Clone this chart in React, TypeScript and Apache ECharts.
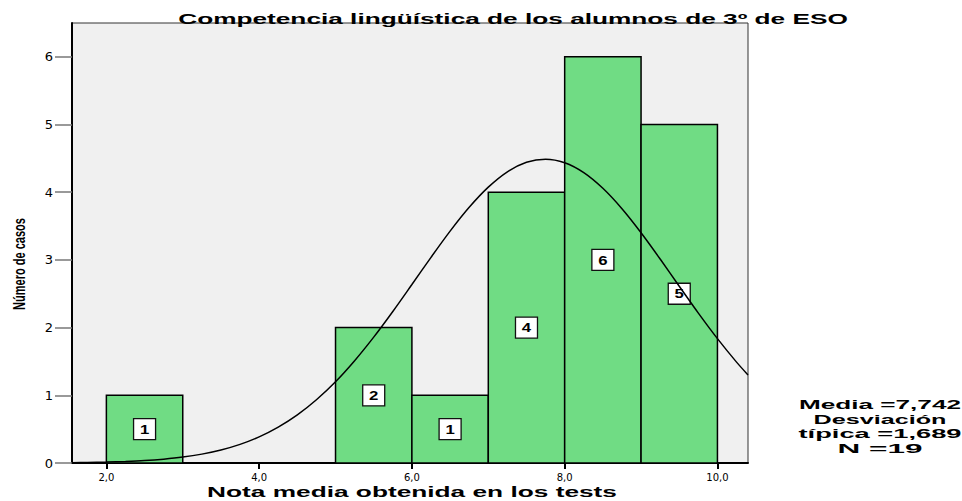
import React, { useEffect, useRef } from "react";
import * as echarts from "echarts";

const titleText = "Competencia lingüística de los alumnos de 3º de ESO";
const xAxisName = "Nota media obtenida en los tests";
const yAxisName = "Número de casos";
const statLines = ["Media =7,742", "Desviación", "típica =1,689", "N =19"];

const binStart = [2, 5, 6, 7, 8, 9];
const binEnd = [3, 6, 7, 8, 9, 10];
const binCount = [1, 2, 1, 4, 6, 5];

const curveX = [1.55, 1.75, 2, 2.25, 2.5, 2.75, 3, 3.25, 3.5, 3.75, 4, 4.25, 4.5, 4.75, 5, 5.25, 5.5, 5.75, 6, 6.25, 6.5, 6.75, 7, 7.25, 7.5, 7.75, 8, 8.25, 8.5, 8.75, 9, 9.25, 9.5, 9.75, 10, 10.25, 10.4];
const curveY = [0.005, 0.008, 0.014, 0.023, 0.036, 0.057, 0.087, 0.131, 0.192, 0.275, 0.386, 0.53, 0.711, 0.935, 1.201, 1.512, 1.86, 2.239, 2.637, 3.038, 3.425, 3.777, 4.075, 4.302, 4.442, 4.488, 4.436, 4.29, 4.058, 3.756, 3.401, 3.013, 2.611, 2.214, 1.837, 1.49, 1.301];

const xTicks = [2, 4, 6, 8, 10];
const yTicks = [0, 1, 2, 3, 4, 5, 6];

const FONT = "'Liberation Sans', Arial, sans-serif";

function fitScale(text: string, font: string, target: number): number {
  const c = document.createElement("canvas").getContext("2d");
  if (!c) return 1;
  c.font = font;
  const w = c.measureText(text).width;
  return w > 0 ? target / w : 1;
}

export default function App() {
  const ref = useRef<HTMLDivElement>(null);
  useEffect(() => {
    if (!ref.current) return;
    const chart = echarts.init(ref.current, undefined, { renderer: "svg" });

    const bins = binStart.map((s, i) => [s, binEnd[i], binCount[i]]);
    const curve = curveX.map((x, i) => [x, curveY[i]]);

    const tf = (size: number) => `bold ${size}px ${FONT}`;
    const statY = [404, 419, 434, 448];
    const statW = [162, 133, 163, 85];

    const graphics: any[] = [
      {
        type: "text",
        x: 513,
        y: 19,
        scaleX: fitScale(titleText, tf(14), 670),
        style: { text: titleText, font: tf(14), fill: "#000", align: "center", verticalAlign: "middle" },
      },
      {
        type: "text",
        x: 412,
        y: 492,
        scaleX: fitScale(xAxisName, tf(14), 410),
        style: { text: xAxisName, font: tf(14), fill: "#000", align: "center", verticalAlign: "middle" },
      },
      {
        type: "text",
        x: 19,
        y: 264,
        rotation: Math.PI / 2,
        scaleX: fitScale(yAxisName, tf(17), 92),
        style: { text: yAxisName, font: tf(17), fill: "#000", align: "center", verticalAlign: "middle" },
      },
      ...statLines.map((t, i) => ({
        type: "text",
        x: 880,
        y: statY[i],
        scaleX: fitScale(t, tf(13), statW[i]),
        style: { text: t, font: tf(13), fill: "#000", align: "center", verticalAlign: "middle" },
      })),
    ];

    chart.setOption({
      animation: false,
      backgroundColor: "#ffffff",
      grid: {
        left: 72,
        right: 214,
        top: 23,
        bottom: 38,
        show: true,
        backgroundColor: "#f0f0f0",
        borderColor: "#333",
        borderWidth: 1,
      },
      xAxis: {
        type: "value",
        min: 1.55,
        max: 10.4,
        splitLine: { show: false },
        axisLine: { show: true, lineStyle: { color: "#000", width: 2 } },
        axisTick: { show: true, customValues: xTicks, length: 6, lineStyle: { color: "#000", width: 2 } },
        axisLabel: {
          customValues: xTicks,
          margin: 9,
          fontFamily: "'DejaVu Sans', sans-serif",
          fontSize: 10,
          color: "#000",
          formatter: (v: number) => v.toFixed(1).replace(".", ","),
        },
      },
      yAxis: {
        type: "value",
        min: 0,
        max: 6.5,
        splitLine: { show: false },
        axisLine: { show: true, lineStyle: { color: "#000", width: 2 } },
        axisTick: { show: true, customValues: yTicks, length: 17, lineStyle: { color: "#777", width: 1.5 } },
        axisLabel: {
          customValues: yTicks,
          margin: 19,
          fontFamily: "'DejaVu Sans', sans-serif",
          fontSize: 13,
          color: "#000",
        },
      },
      series: [
        {
          type: "custom",
          z: 2,
          data: bins,
          renderItem: (params: any, api: any) => {
            const x0 = api.value(0);
            const x1 = api.value(1);
            const c = api.value(2);
            const p0 = api.coord([x0, c]);
            const p1 = api.coord([x1, 0]);
            return {
              type: "rect",
              shape: { x: p0[0], y: p0[1], width: p1[0] - p0[0], height: p1[1] - p0[1] },
              style: { fill: "#70dc84", stroke: "#000", lineWidth: 1.5 },
            };
          },
        },
        {
          type: "custom",
          z: 3,
          data: bins,
          renderItem: (params: any, api: any) => {
            const x0 = api.value(0);
            const x1 = api.value(1);
            const c = api.value(2);
            const p = api.coord([(x0 + x1) / 2, c / 2]);
            return {
              type: "group",
              children: [
                {
                  type: "rect",
                  shape: { x: p[0] - 11, y: p[1] - 10.5, width: 22, height: 21 },
                  style: { fill: "#ffffff", stroke: "#111", lineWidth: 1.3 },
                },
                {
                  type: "text",
                  x: p[0],
                  y: p[1] + 0.5,
                  scaleX: 1.4,
                  style: {
                    text: String(c),
                    font: `bold 12px ${FONT}`,
                    fill: "#000",
                    align: "center",
                    verticalAlign: "middle",
                  },
                },
              ],
            };
          },
        },
        {
          type: "line",
          z: 4,
          data: curve,
          smooth: 0.3,
          showSymbol: false,
          symbol: "none",
          lineStyle: { color: "#000", width: 1.5 },
        },
      ],
      graphic: graphics,
    });

    return () => chart.dispose();
  }, []);

  return (
    <div
      ref={ref}
      style={{ position: "fixed", left: 0, top: 0, width: 962, height: 501, background: "#fff" }}
    />
  );
}
